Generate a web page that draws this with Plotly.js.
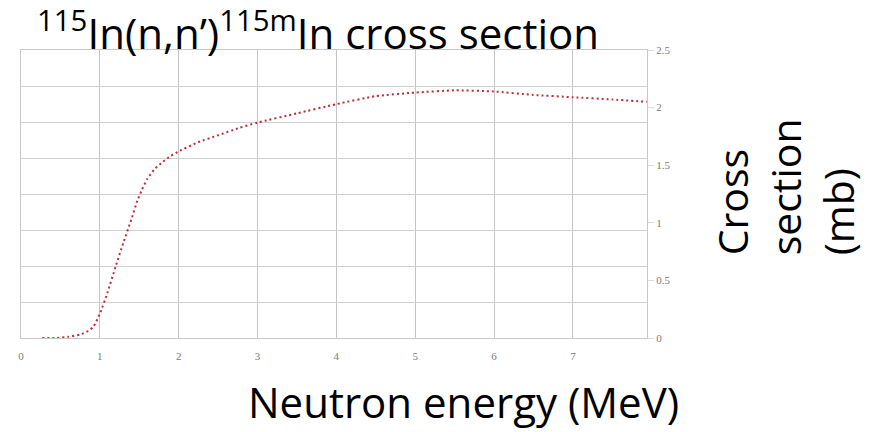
<!DOCTYPE html>
<html>
<head>
<meta charset="utf-8">
<script src="https://cdn.plot.ly/plotly-3.0.1.min.js"></script>
<style>html,body{margin:0;padding:0;background:#fff;}#chart{width:884px;height:432px;}</style>
</head>
<body>
<div id="chart"></div>
<script>
// Neutron energy (MeV)
const energy = [0.27, 0.45, 0.6, 0.75, 0.85, 0.92, 1.0, 1.1, 1.2, 1.3, 1.4, 1.48, 1.53, 1.6, 1.7, 1.8, 1.9, 2.0, 2.25, 2.5, 2.75, 3.0, 3.5, 4.0, 4.5, 5.0, 5.5, 6.0, 6.5, 7.0, 7.5, 7.94];
// Cross section (mb)
const crossSection = [0.0, 0.0, 0.01, 0.03, 0.06, 0.1, 0.21, 0.4, 0.62, 0.83, 1.03, 1.2, 1.28, 1.38, 1.47, 1.53, 1.58, 1.62, 1.7, 1.76, 1.82, 1.87, 1.95, 2.03, 2.1, 2.13, 2.15, 2.14, 2.11, 2.09, 2.07, 2.05];
const yTickVals = [0, 0.5, 1, 1.5, 2, 2.5];
const yTickText = ["0", "0.5", "1", "1.5", "2", "2.5"];
const xTickVals = [0, 1, 2, 3, 4, 5, 6, 7];
const xTickText = ["0", "1", "2", "3", "4", "5", "6", "7"];

const trace = {
  x: energy,
  y: crossSection,
  type: 'scatter',
  mode: 'lines',
  line: {color: 'rgb(190,45,55)', width: 2, dash: '2px,3px', shape: 'spline', smoothing: 0.5},
  hoverinfo: 'skip',
  showlegend: false
};

const gridTrace = {
  x: [0], y: [0], xaxis: 'x', yaxis: 'y2', type: 'scatter', mode: 'markers',
  marker: {opacity: 0}, hoverinfo: 'skip', showlegend: false
};

const tickFont = {family: 'Liberation Serif, Times New Roman, serif', size: 11, color: '#7a7a7a'};
const bigFont = {family: 'Open Sans, sans-serif', size: 42, color: '#000'};

const layout = {
  width: 884, height: 432,
  margin: {l: 21, r: 237, t: 50, b: 94},
  paper_bgcolor: '#fff', plot_bgcolor: '#fff',
  font: {family: 'Open Sans, sans-serif', color: '#000'},
  title: {
    text: "<sup>115</sup>In(n,n’)<sup>115m</sup>In cross section",
    font: bigFont,
    xref: 'container', yref: 'container', x: 37/884, xanchor: 'left', y: 1 - 34/432, yanchor: 'middle'
  },
  xaxis: {
    range: [0, 7.94], tickvals: xTickVals, ticktext: xTickText, showgrid: true, gridcolor: '#c4c4c4', gridwidth: 1,
    zeroline: false, showline: true, linecolor: '#c8c8c8', mirror: true, ticks: '', tickfont: tickFont, ticklabelstandoff: 8
  },
  yaxis: {
    range: [0, 2.5], side: 'right', tickvals: yTickVals, ticktext: yTickText, showgrid: false,
    zeroline: false, showline: true, linecolor: '#c8c8c8', mirror: true,
    ticks: 'outside', ticklen: 6, tickcolor: '#dddddd', tickfont: tickFont
  },
  yaxis2: {
    range: [0, 2.5], overlaying: 'y', side: 'left', dtick: 0.3125, tick0: 0, showgrid: true, gridcolor: '#d0d0d0',
    showticklabels: false, ticks: '', zeroline: false, showline: false
  },
  annotations: [
    {
      text: 'Neutron energy (MeV)', xref: 'paper', yref: 'paper', x: (463 - 21) / 626, y: -(401 - 338) / 288,
      xanchor: 'center', yanchor: 'middle', showarrow: false,
      font: {family: 'Open Sans, sans-serif', size: 42, color: '#000'}
    },
    {
      text: 'Cross<br>section<br>(mb)', xref: 'paper', yref: 'paper', x: 1, xshift: 55, y: 0.28, yanchor: 'bottom', xanchor: 'left',
      textangle: -90, align: 'left', showarrow: false,
      font: {family: 'Open Sans, sans-serif', size: 41, color: '#000'}
    }
  ]
};

Plotly.newPlot('chart', [trace, gridTrace], layout, {displayModeBar: false, staticPlot: true});
</script>
</body>
</html>
